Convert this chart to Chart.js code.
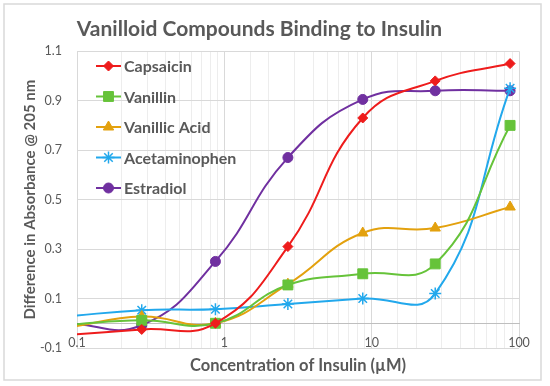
<!DOCTYPE html>
<html>
<head>
<meta charset="utf-8">
<script src="https://cdn.jsdelivr.net/npm/chart.js@4.4.1/dist/chart.umd.min.js"></script>
<style>
  body { margin: 0; background: #fff; }
</style>
</head>
<body>
<canvas id="vanilloidChart" width="550" height="386"></canvas>
<script>
// concentration of insulin (uM) - first point sits just left of the axis and gets clipped
const concentrations = [0.087, 0.275, 0.87, 2.7, 8.7, 27, 87];
const capsaicin     = [-0.047, -0.025, 0.0, 0.31, 0.83, 0.98, 1.05];
const vanillin      = [-0.006, 0.012, 0.0, 0.155, 0.2, 0.24, 0.80];
const vanillicAcid  = [-0.017, 0.027, 0.0, 0.158, 0.365, 0.385, 0.47];
const acetaminophen = [0.028, 0.053, 0.057, 0.078, 0.10, 0.12, 0.95];
const estradiol     = [0.0, -0.008, 0.25, 0.67, 0.905, 0.94, 0.94];
const xTickLabels = [0.1, 1, 10, 100];

const TEXT = '#595959';
const FONT = 'Lato';

function toPoints(values) {
    return values.map((v, i) => ({ x: concentrations[i], y: v }));
}

function series(label, values, color, style, radius) {
    return {
        label: label,
        data: toPoints(values),
        borderColor: color,
        backgroundColor: color,
        borderWidth: 2,
        pointStyle: style,
        pointRadius: radius,
        pointBorderWidth: style === 'star' ? 1.5 : 1,
        tension: 0.45,
        fill: false
    };
}

// white frame round the whole chart
const framePlugin = {
    id: 'frame',
    beforeDraw(chart) {
        const c = chart.ctx;
        c.save();
        c.fillStyle = '#fff';
        c.fillRect(0, 0, chart.width, chart.height);
        c.strokeStyle = '#d9d9d9';
        c.lineWidth = 1.5;
        c.strokeRect(4, 4, 537, 376);
        c.restore();
    }
};

// legend inside the plot, line with marker like Excel
const insideLegend = {
    id: 'insideLegend',
    afterDatasetsDraw(chart) {
        const c = chart.ctx;
        c.save();
        chart.data.datasets.forEach((ds, i) => {
            const y = 66 + i * 30.5;
            c.strokeStyle = ds.borderColor;
            c.lineWidth = 2;
            c.beginPath();
            c.moveTo(96, y);
            c.lineTo(121, y);
            c.stroke();
            c.fillStyle = ds.backgroundColor;
            c.lineWidth = ds.pointBorderWidth;
            Chart.helpers.drawPoint(c, { pointStyle: ds.pointStyle, radius: ds.pointRadius, rotation: 0, borderWidth: ds.pointBorderWidth }, 108.5, y);
            c.fillStyle = TEXT;
            c.font = 'bold 16px ' + FONT;
            c.textBaseline = 'middle';
            c.fillText(ds.label, 124, y + 1);
        });
        c.restore();
    }
};

new Chart(document.getElementById('vanilloidChart'), {
    type: 'line',
    data: {
        datasets: [
            series('Capsaicin', capsaicin, '#ee1c1c', 'rectRot', 5),
            series('Vanillin', vanillin, '#66c33a', 'rect', 7),
            series('Vanillic Acid', vanillicAcid, '#e3a10e', 'triangle', 6),
            series('Acetaminophen', acetaminophen, '#22a8ec', 'star', 6),
            series('Estradiol', estradiol, '#7030a0', 'circle', 5)
        ]
    },
    options: {
        responsive: false,
        animation: false,
        layout: { padding: { left: 0, right: 31, top: 0, bottom: 0 } },
        plugins: {
            legend: { display: false },
            tooltip: { enabled: false },
            title: {
                display: true,
                text: 'Vanilloid Compounds Binding to Insulin',
                color: TEXT,
                font: { family: FONT, size: 21, weight: 'bold' },
                padding: { top: 17, bottom: 9 }
            }
        },
        scales: {
            x: {
                type: 'logarithmic',
                position: { y: 0 },
                min: 0.1,
                max: 100,
                grid: {
                    drawTicks: false,
                    color: ctx => (ctx.tick && ctx.tick.major) ? '#d9d9d9' : '#ededed'
                },
                border: { display: true, color: '#bfbfbf', width: 1 },
                ticks: {
                    autoSkip: false,
                    maxRotation: 0,
                    padding: 12,
                    color: TEXT,
                    font: { family: FONT, size: 12.5 },
                    callback: v => xTickLabels.find(t => Math.abs(t - v) < 1e-9) !== undefined ? String(v) : ''
                }
            },
            xTitle: {
                type: 'linear',
                position: 'bottom',
                axis: 'x',
                min: 0,
                max: 1,
                grid: { display: false },
                border: { display: false },
                ticks: { display: false },
                afterFit: s => { s.height = 38; },
                title: {
                    display: true,
                    text: 'Concentration of Insulin (µM)',
                    color: TEXT,
                    font: { family: FONT, size: 16.5, weight: 'bold' },
                    padding: { top: 0, bottom: 10 }
                }
            },
            y: {
                min: -0.1,
                max: 1.1,
                grid: { drawTicks: false, color: '#d9d9d9' },
                border: { display: false },
                afterFit: s => { s.width = 77; },
                ticks: {
                    stepSize: 0.2,
                    padding: 15,
                    color: TEXT,
                    font: { family: FONT, size: 12.5 },
                    callback: v => v.toFixed(1)
                },
                title: {
                    display: true,
                    text: 'Difference in Absorbance @ 205 nm',
                    color: TEXT,
                    font: { family: FONT, size: 15, weight: 'bold' },
                    padding: { top: 21, bottom: 0 }
                }
            }
        }
    },
    plugins: [framePlugin, insideLegend]
});
</script>
</body>
</html>
